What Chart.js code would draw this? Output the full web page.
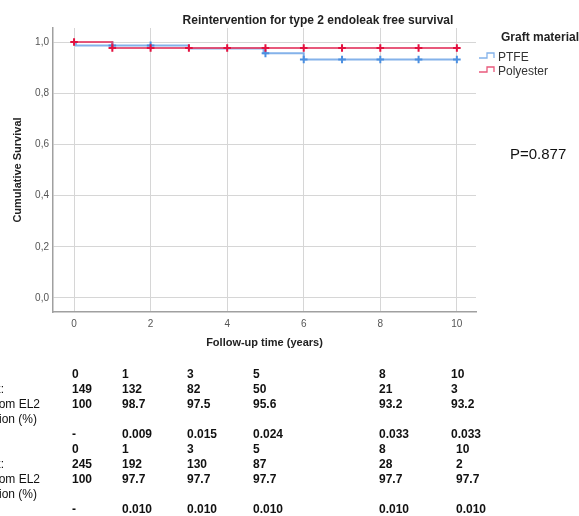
<!DOCTYPE html>
<html>
<head>
<meta charset="utf-8">
<script src="https://cdn.jsdelivr.net/npm/chart.js@4/dist/chart.umd.min.js"></script>
<style>
  html, body { margin: 0; padding: 0; background: #fff; }
  #wrap { width: 579px; height: 516px; position: relative; }
</style>
</head>
<body>
<div id="wrap"><canvas id="kmChart"></canvas></div>
<script>
// survival curves (Kaplan-Meier steps)
var ptfeTime = [0, 0.05, 3, 4.95, 6, 10];
var ptfeSurv = [1.0, 0.987, 0.975, 0.956, 0.932, 0.932];
var ptfeCensTime = [1, 2, 5, 6, 7, 8, 9, 10];
var ptfeCensSurv = [0.987, 0.987, 0.956, 0.932, 0.932, 0.932, 0.932, 0.932];

var polyTime = [0, 1, 10];
var polySurv = [1.0, 0.977, 0.977];
var polyCensTime = [0, 1, 2, 3, 4, 5, 6, 7, 8, 9, 10];
var polyCensSurv = [1.0, 0.977, 0.977, 0.977, 0.977, 0.977, 0.977, 0.977, 0.977, 0.977, 0.977];

var xTicks = [0, 2, 4, 6, 8, 10];
var yTicks = [0, 0.2, 0.4, 0.6, 0.8, 1.0];

// table below the chart
var tableTimes = ["0", "1", "3", "5", "8", "10"];
var ptfeAtRisk = ["149", "132", "82", "50", "21", "3"];
var ptfeFree = ["100", "98.7", "97.5", "95.6", "93.2", "93.2"];
var ptfeSE = ["-", "0.009", "0.015", "0.024", "0.033", "0.033"];
var polyAtRisk = ["245", "192", "130", "87", "28", "2"];
var polyFree = ["100", "97.7", "97.7", "97.7", "97.7", "97.7"];
var polySE = ["-", "0.010", "0.010", "0.010", "0.010", "0.010"];

var BLUE = "#4b8fe0", BLUE_LINE = "rgba(110,165,230,0.85)";
var RED = "#e3103f", RED_LINE = "rgba(228,60,100,0.85)";
var FONT = "'Liberation Sans', Arial, sans-serif";

function pts(xs, ys) {
    return xs.map(function (x, i) { return {x: x, y: ys[i]}; });
}

var extras = {
    id: 'extras',
    afterDraw: function (chart) {
        var ctx = chart.ctx;
        ctx.save();
        ctx.fillStyle = "#222";
        ctx.textBaseline = "middle";

        // title
        ctx.font = "bold 12px " + FONT;
        ctx.textAlign = "center";
        ctx.fillText("Reintervention for type 2 endoleak free survival", 318, 21);

        // legend
        ctx.textAlign = "left";
        ctx.fillText("Graft material", 501, 38);
        ctx.font = "12px " + FONT;
        ctx.fillStyle = "#333";
        ctx.fillText("PTFE", 498, 58);
        ctx.fillText("Polyester", 498, 72);
        ctx.lineWidth = 1.3;
        [[BLUE_LINE, 58], [RED_LINE, 72]].forEach(function (it) {
            var y = it[1];
            ctx.strokeStyle = it[0];
            ctx.beginPath();
            ctx.moveTo(479, y);
            ctx.lineTo(487, y);
            ctx.lineTo(487, y - 5);
            ctx.lineTo(494, y - 5);
            ctx.lineTo(494, y);
            ctx.stroke();
        });

        // p value
        ctx.font = "15px " + FONT;
        ctx.fillStyle = "#111";
        ctx.fillText("P=0.877", 510, 155);

        // table
        var cols1 = [72, 122, 187, 253, 379, 451];
        var cols2 = [72, 122, 187, 253, 379, 456];
        ctx.font = "12px " + FONT;
        ctx.textAlign = "right";
        ctx.fillText("At risk:", 4, 390);
        ctx.fillText("Free from EL2", 40, 405);
        ctx.fillText("reintervention (%)", 37, 420);
        ctx.fillText("At risk:", 4, 465);
        ctx.fillText("Free from EL2", 40, 480);
        ctx.fillText("reintervention (%)", 37, 495);

        ctx.font = "bold 12px " + FONT;
        ctx.textAlign = "left";
        function row(vals, cols, y) {
            vals.forEach(function (v, i) { ctx.fillText(v, cols[i], y); });
        }
        row(tableTimes, cols1, 375);
        row(ptfeAtRisk, cols1, 390);
        row(ptfeFree, cols1, 405);
        row(ptfeSE, cols1, 435);
        row(tableTimes, cols2, 450);
        row(polyAtRisk, cols2, 465);
        row(polyFree, cols2, 480);
        row(polySE, cols2, 510);
        ctx.restore();
    }
};

var myContext = document.getElementById("kmChart").getContext('2d');
var myChart = new Chart(myContext, {
    type: 'line',
    data: {
        datasets: [{
            label: 'Polyester censored',
            type: 'scatter',
            data: pts(polyCensTime, polyCensSurv),
            pointStyle: 'cross',
            pointRadius: 3.8,
            borderColor: RED,
            pointBorderWidth: 2,
            order: 1
        }, {
            label: 'Polyester',
            data: pts(polyTime, polySurv),
            stepped: 'before',
            borderColor: RED_LINE,
            borderWidth: 2,
            pointRadius: 0,
            order: 2
        }, {
            label: 'PTFE censored',
            type: 'scatter',
            data: pts(ptfeCensTime, ptfeCensSurv),
            pointStyle: 'cross',
            pointRadius: 3.8,
            borderColor: BLUE,
            pointBorderWidth: 2,
            order: 3
        }, {
            label: 'PTFE',
            data: pts(ptfeTime, ptfeSurv),
            stepped: 'before',
            borderColor: BLUE_LINE,
            borderWidth: 2,
            pointRadius: 0,
            order: 4
        }]
    },
    options: {
        responsive: true,
        maintainAspectRatio: false,
        animation: false,
        layout: {
            padding: {top: 28, right: 103, bottom: 162, left: 0}
        },
        plugins: {
            legend: {display: false},
            tooltip: {enabled: false}
        },
        scales: {
            x: {
                type: 'linear',
                min: -0.55,
                max: 10.5,
                afterBuildTicks: function (s) {
                    s.ticks = xTicks.map(function (v) { return {value: v}; });
                },
                afterFit: function (s) { s.height = 42; },
                grid: {color: '#d6d6d6', drawTicks: false},
                border: {color: '#a0a0a0', width: 1.5},
                ticks: {
                    padding: 6,
                    color: '#555',
                    font: {family: FONT, size: 10}
                },
                title: {
                    display: true,
                    text: 'Follow-up time (years)',
                    color: '#222',
                    font: {family: FONT, size: 11, weight: 'bold'},
                    padding: {top: 4, bottom: 4}
                }
            },
            y: {
                min: -0.055,
                max: 1.055,
                afterBuildTicks: function (s) {
                    s.ticks = yTicks.map(function (v) { return {value: v}; });
                },
                afterFit: function (s) { s.width = 53; },
                grid: {color: '#d6d6d6', drawTicks: false},
                border: {color: '#a0a0a0', width: 1.5},
                ticks: {
                    padding: 4,
                    color: '#555',
                    font: {family: FONT, size: 10},
                    callback: function (v) { return v.toFixed(1).replace('.', ','); }
                },
                title: {
                    display: true,
                    text: 'Cumulative Survival',
                    color: '#222',
                    font: {family: FONT, size: 11, weight: 'bold'},
                    padding: {top: 11, bottom: 0}
                }
            }
        }
    },
    plugins: [extras]
});
</script>
</body>
</html>
